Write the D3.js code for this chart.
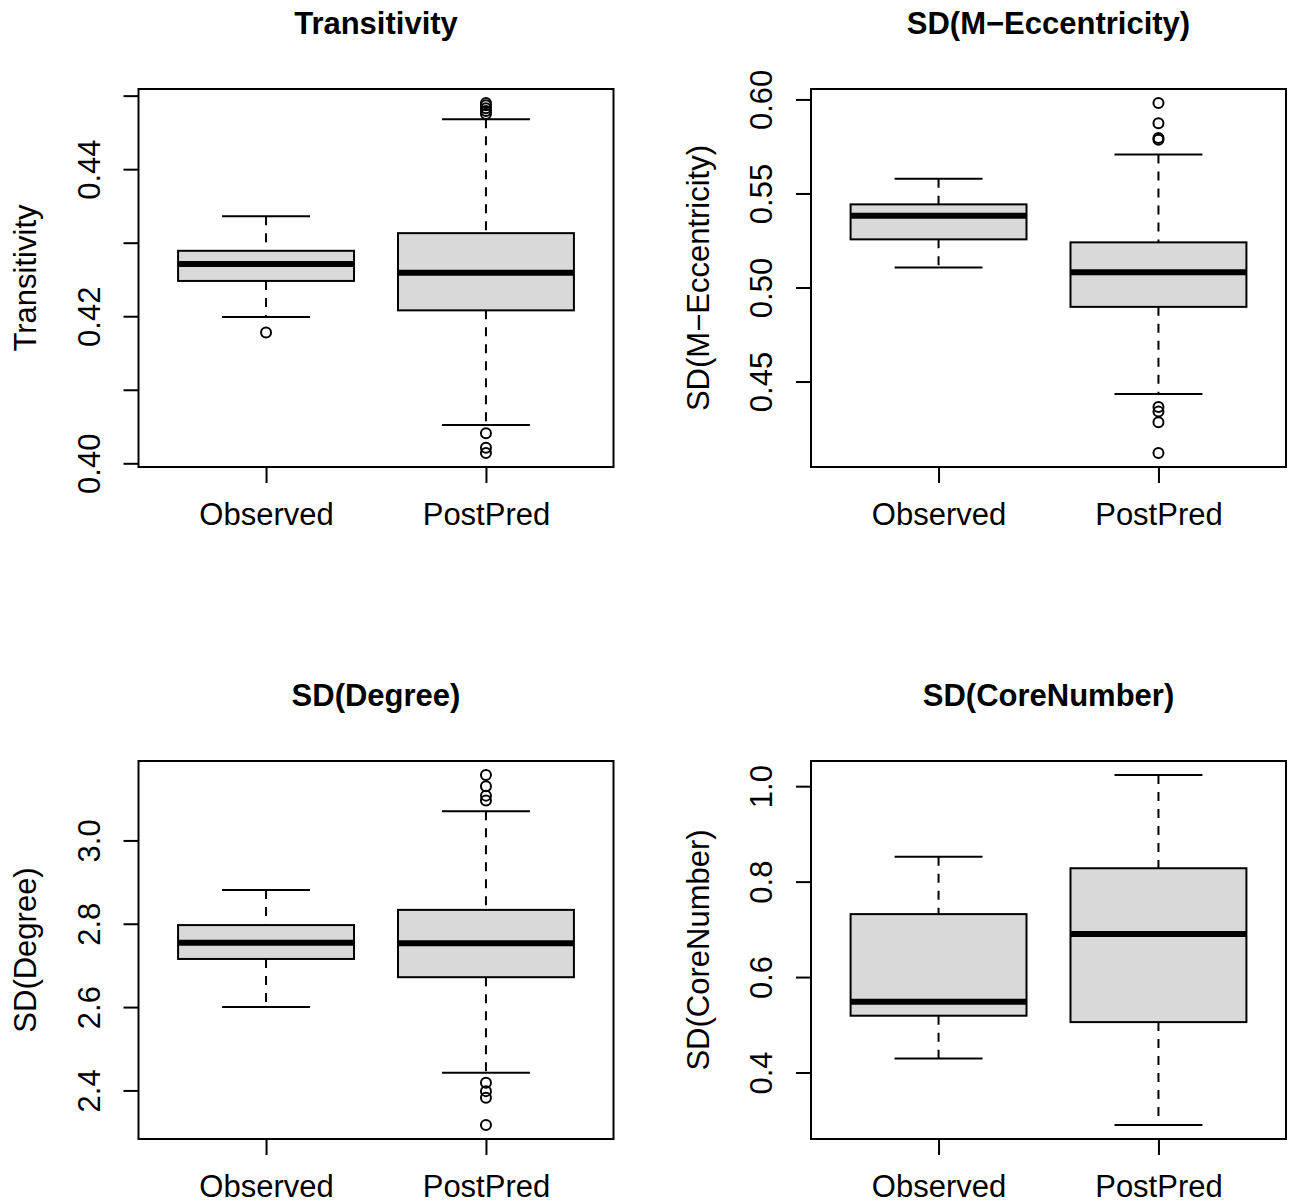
<!DOCTYPE html>
<html>
<head>
<meta charset="utf-8">
<script src="https://cdn.jsdelivr.net/npm/d3@7"></script>
<style>
  body { margin: 0; background: #fff; }
  text { font-family: "Liberation Sans", Arial, Helvetica, sans-serif; fill: #000; }
</style>
</head>
<body>
<svg id="boxes"></svg>
<script>
// groups on the x axis
const categories = ["Observed", "PostPred"];

// box stats: [lower whisker, Q1, median, Q3, upper whisker]
const transitivityObserved = [0.4199, 0.4248, 0.4271, 0.4289, 0.4336];
const transitivityObservedOut = [0.4178];
const transitivityPostPred = [0.4052, 0.4208, 0.4259, 0.4313, 0.4468];
const transitivityPostPredOut = [0.4014, 0.4021, 0.4041, 0.4475, 0.4479, 0.4483, 0.4487, 0.4490];
const transitivityTicks = [0.40, 0.41, 0.42, 0.43, 0.44, 0.45];
const transitivityTickLabels = ["0.40", "", "0.42", "", "0.44", ""];

const eccObserved = [0.5106, 0.5256, 0.5382, 0.5442, 0.5578];
const eccObservedOut = [];
const eccPostPred = [0.4434, 0.4897, 0.5081, 0.5240, 0.5707];
const eccPostPredOut = [0.4120, 0.4284, 0.4340, 0.4364, 0.5785, 0.5795, 0.5873, 0.5981];
const eccTicks = [0.45, 0.50, 0.55, 0.60];
const eccTickLabels = ["0.45", "0.50", "0.55", "0.60"];

const degreeObserved = [2.600, 2.7155, 2.7544, 2.7968, 2.8811];
const degreeObservedOut = [];
const degreePostPred = [2.4422, 2.6717, 2.753, 2.8333, 3.070];
const degreePostPredOut = [2.317, 2.3825, 2.3983, 2.4183, 3.0956, 3.1075, 3.130, 3.157];
const degreeTicks = [2.4, 2.6, 2.8, 3.0];
const degreeTickLabels = ["2.4", "2.6", "2.8", "3.0"];

const coreObserved = [0.4292, 0.519, 0.5482, 0.7319, 0.8522];
const coreObservedOut = [];
const corePostPred = [0.290, 0.5056, 0.6902, 0.828, 1.0234];
const corePostPredOut = [];
const coreTicks = [0.4, 0.6, 0.8, 1.0];
const coreTickLabels = ["0.4", "0.6", "0.8", "1.0"];

const panels = [
	{ title: "Transitivity", ylab: "Transitivity",
		stats: [transitivityObserved, transitivityPostPred],
		out: [transitivityObservedOut, transitivityPostPredOut],
		ticks: transitivityTicks, labels: transitivityTickLabels },
	{ title: "SD(M\u2212Eccentricity)", ylab: "SD(M\u2212Eccentricity)",
		stats: [eccObserved, eccPostPred],
		out: [eccObservedOut, eccPostPredOut],
		ticks: eccTicks, labels: eccTickLabels },
	{ title: "SD(Degree)", ylab: "SD(Degree)",
		stats: [degreeObserved, degreePostPred],
		out: [degreeObservedOut, degreePostPredOut],
		ticks: degreeTicks, labels: degreeTickLabels },
	{ title: "SD(CoreNumber)", ylab: "SD(CoreNumber)",
		stats: [coreObserved, corePostPred],
		out: [coreObservedOut, corePostPredOut],
		ticks: coreTicks, labels: coreTickLabels },
];

const size = { w: 1291, h: 1202 };
const plot = { w: 475, h: 378 };
const svg = d3.select("svg#boxes").attr("width", size.w).attr("height", size.h);
const fontSize = 31;
const lw = 2;

panels.forEach((p, i) => {
	const left = 138.5 + (i % 2) * 672.5;
	const top = 89 + Math.floor(i / 2) * 672;

	const g = svg.append("g").attr("transform", `translate(${left}, ${top})`);

	// y range like R: data range padded 4%
	const all = p.stats.flat().concat(p.out.flat());
	const [lo, hi] = d3.extent(all);
	const pad = (hi - lo) * 0.04;
	const y = d3.scaleLinear().domain([lo - pad, hi + pad]).range([plot.h, 0]);
	const x = d3.scalePoint().domain(categories).range([0, plot.w]).padding(0.58);
	const bw = x.step() * 0.8;

	const data = categories.map((c, k) => ({ cat: c, s: p.stats[k], out: p.out[k] }));

	const boxes = g.selectAll("g.box").data(data).join("g").classed("box", true)
		.attr("transform", (d) => `translate(${x(d.cat)}, 0)`);

	// dashed whiskers
	boxes.append("line")
		.attr("y1", (d) => y(d.s[4])).attr("y2", (d) => y(d.s[3]))
		.attr("stroke", "#000").attr("stroke-width", lw).attr("stroke-dasharray", "9,8");
	boxes.append("line")
		.attr("y1", (d) => y(d.s[1])).attr("y2", (d) => y(d.s[0]))
		.attr("stroke", "#000").attr("stroke-width", lw).attr("stroke-dasharray", "9,8");

	// staples
	[0, 4].forEach((k) => {
		boxes.append("line")
			.attr("x1", -bw / 4).attr("x2", bw / 4)
			.attr("y1", (d) => y(d.s[k])).attr("y2", (d) => y(d.s[k]))
			.attr("stroke", "#000").attr("stroke-width", lw);
	});

	boxes.append("rect")
		.attr("x", -bw / 2).attr("width", bw)
		.attr("y", (d) => y(d.s[3]))
		.attr("height", (d) => y(d.s[1]) - y(d.s[3]))
		.attr("fill", "#d9d9d9").attr("stroke", "#000").attr("stroke-width", lw);

	boxes.append("line")
		.attr("x1", -bw / 2).attr("x2", bw / 2)
		.attr("y1", (d) => y(d.s[2])).attr("y2", (d) => y(d.s[2]))
		.attr("stroke", "#000").attr("stroke-width", 6);

	boxes.selectAll("circle").data((d) => d.out).join("circle")
		.attr("cy", (v) => y(v)).attr("r", 5)
		.attr("fill", "none").attr("stroke", "#000").attr("stroke-width", 2);

	// plot frame
	g.append("rect").attr("width", plot.w).attr("height", plot.h)
		.attr("fill", "none").attr("stroke", "#000").attr("stroke-width", lw);

	// y axis, labels rotated like R
	const yAxis = g.append("g").call(
		d3.axisLeft(y).tickValues(p.ticks).tickSize(15)
			.tickFormat((v, k) => p.labels[k])
	);
	yAxis.select(".domain").remove();
	yAxis.selectAll("line").attr("stroke-width", lw);
	yAxis.selectAll("text")
		.attr("transform", "rotate(-90)")
		.attr("x", 0).attr("y", -39).attr("dy", 0)
		.attr("text-anchor", "middle")
		.style("font-size", `${fontSize}px`).style("font-family", null);

	// x axis
	const xAxis = g.append("g").attr("transform", `translate(0, ${plot.h})`)
		.call(d3.axisBottom(x).tickSize(16).tickPadding(20));
	xAxis.select(".domain").remove();
	xAxis.selectAll("line").attr("stroke-width", lw);
	xAxis.selectAll("text").style("font-size", `${fontSize}px`).style("font-family", null);

	// title and y label
	g.append("text").text(p.title)
		.attr("x", plot.w / 2).attr("y", -55.5)
		.attr("text-anchor", "middle")
		.style("font-size", `${fontSize}px`).style("font-weight", "bold");

	g.append("text").text(p.ylab)
		.attr("transform", `translate(-102.5, ${plot.h / 2}) rotate(-90)`)
		.attr("text-anchor", "middle")
		.style("font-size", `${fontSize}px`);
});
</script>
</body>
</html>
